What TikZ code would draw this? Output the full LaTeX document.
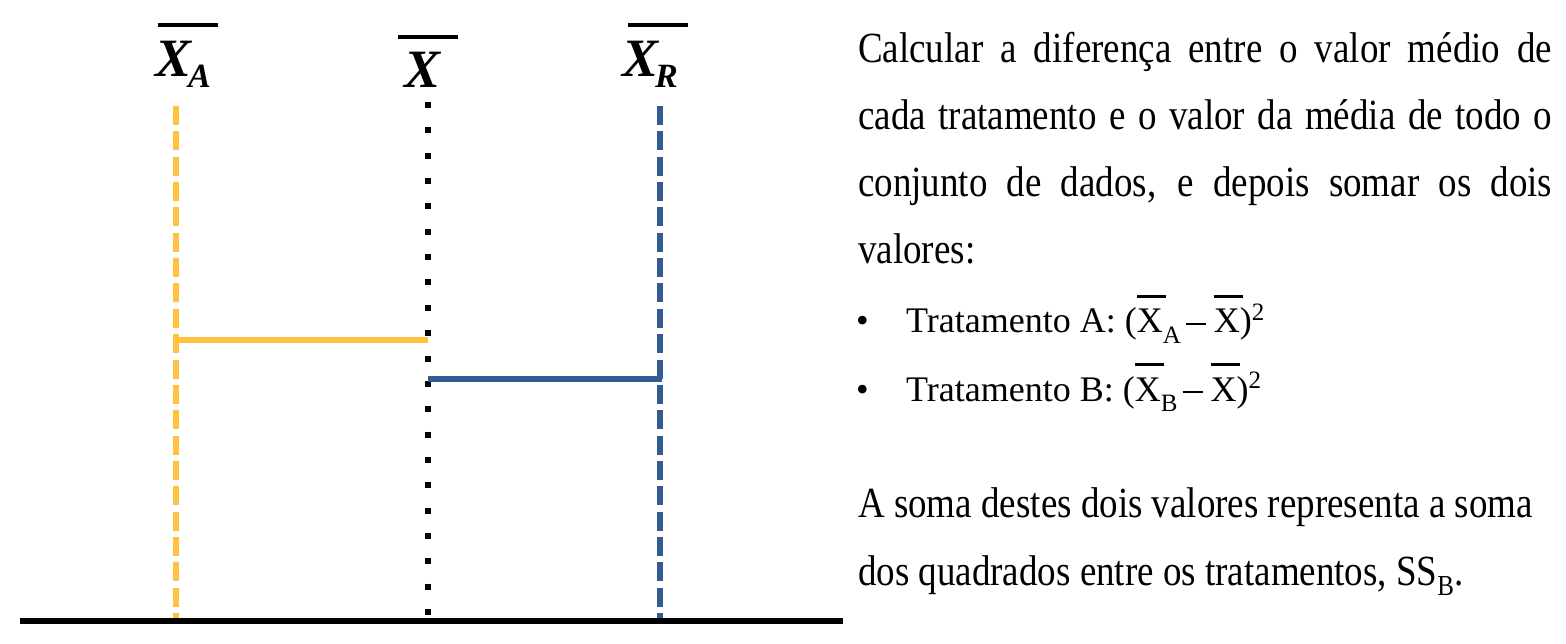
\documentclass[tikz,border=0pt]{standalone}
\usepackage{fontspec}
\setmainfont{Liberation Serif}
\newfontfamily\condfont[FakeStretch=0.86]{Liberation Serif}
\definecolor{myyellow}{HTML}{FFC240}
\definecolor{myblue}{HTML}{335C91}
\newcommand{\barX}{\leavevmode\rlap{\rule[0.98em]{0.82em}{0.085em}}X}
\newcommand{\mysub}[1]{\raisebox{-0.28em}{\fontsize{25}{25}\selectfont #1}}
\newcommand{\mysup}[1]{\raisebox{0.36em}{\fontsize{25}{25}\selectfont #1}}
\newcommand{\mydash}{\kern5pt\rule[8pt]{20pt}{1.8pt}\kern8pt}
\tikzset{
  axisline/.style={line width=5.5pt, black},
  yelvert/.style={line width=5.5pt, myyellow, dash pattern=on 19pt off 6.35pt},
  bluvert/.style={line width=5.5pt, myblue, dash pattern=on 19pt off 6.35pt},
  dotvert/.style={line width=6pt, black, dash pattern=on 6pt off 19.35pt},
  yelhor/.style={line width=5.5pt, myyellow},
  bluhor/.style={line width=5.5pt, myblue},
  barline/.style={line width=4pt, black},
  biglbl/.style={inner sep=0pt, anchor=base west, font=\fontsize{54}{54}\selectfont\bfseries\itshape},
  paraline/.style={inner sep=0pt, anchor=base west, font=\condfont\fontsize{43}{43}\selectfont},
  bulline/.style={inner sep=0pt, anchor=base west, font=\fontsize{36}{36}\selectfont},
}
\begin{document}
\begin{tikzpicture}[x=1pt,y=-1pt]
\useasboundingbox (0,0) rectangle (1566,644);
% coordinates
\coordinate (axl) at (20,621);
\coordinate (axr) at (843,621);
\coordinate (yt) at (176,106);
\coordinate (yb) at (176,619);
\coordinate (kt) at (428,102);
\coordinate (kb) at (428,619);
\coordinate (bt) at (660,106);
\coordinate (bb) at (660,619);
\coordinate (yh) at (176,340);
\coordinate (kyh) at (428,340);
\coordinate (kbh) at (428,379);
\coordinate (bh) at (662,379);
% vertical lines
\draw[yelvert] (yt) -- (yb);
\draw[dotvert] (kt) -- (kb);
\draw[bluvert] (bt) -- (bb);
% horizontal differences
\draw[yelhor] (yh) -- (kyh);
\draw[bluhor] (kbh) -- (bh);
% axis
\draw[axisline] (axl) -- (axr);
% labels
\node[biglbl] (lxa) at (155,77) {X\kern-3pt\raisebox{-11pt}{\fontsize{34}{34}\selectfont A}};
\node[biglbl] (lx) at (404,88) {X};
\node[biglbl] (lxr) at (622,77) {X\kern-3pt\raisebox{-11pt}{\fontsize{34}{34}\selectfont R}};
\coordinate (oa1) at (158,25); \coordinate (oa2) at (218,25);
\coordinate (ox1) at (398,37); \coordinate (ox2) at (458,37);
\coordinate (or1) at (628,25); \coordinate (or2) at (688,25);
\draw[barline] (oa1) -- (oa2);
\draw[barline] (ox1) -- (ox2);
\draw[barline] (or1) -- (or2);
% text
\node[paraline] (p1) at (858,63) {\makebox[694pt][s]{Calcular a diferença entre o valor médio de}};
\node[paraline] (p2) at (858,130) {\makebox[694pt][s]{cada tratamento e o valor da média de todo o}};
\node[paraline] (p3) at (858,197) {\makebox[694pt][s]{conjunto de dados, e depois somar os dois}};
\node[paraline] (p4) at (858,264) {valores:};
\node[bulline] (b1) at (856,333) {\makebox[50pt][l]{•}Tratamento A: (\barX\mysub{A}\mydash\barX)\mysup{2}};
\node[bulline] (b2) at (856,401) {\makebox[50pt][l]{•}Tratamento B: (\barX\mysub{B}\mydash\barX)\mysup{2}};
\node[paraline] (q1) at (858,517) {A soma destes dois valores representa a soma};
\node[paraline] (q2) at (858,585) {dos quadrados entre os tratamentos, SS\raisebox{-0.25em}{\fontsize{29}{29}\selectfont B}.};
\end{tikzpicture}
\end{document}
